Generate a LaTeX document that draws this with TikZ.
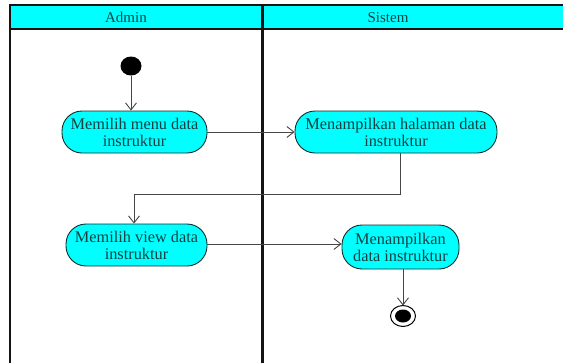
\documentclass[tikz,border=0pt]{standalone}
\usepackage{fontspec}
\setmainfont{Liberation Serif}
\usetikzlibrary{arrows.meta}
\definecolor{lanefill}{RGB}{0,255,255}
\definecolor{inktext}{RGB}{20,65,65}
\definecolor{flowline}{RGB}{70,70,70}
\definecolor{frameline}{RGB}{20,20,20}
\begin{document}
\begin{tikzpicture}[x=1pt,y=-1pt,
  action/.style={draw=inktext!70!black, line width=0.9pt, fill=lanefill,
    rounded corners=20pt, text=inktext, align=center, inner sep=0pt,
    font=\fontsize{16.3}{17}\selectfont},
  flow/.style={draw=flowline, line width=0.9pt,
    -{Straight Barb[length=7pt,width=11pt,line width=0.9pt]}},
  lanetitle/.style={text=inktext, font=\fontsize{15}{16}\selectfont}]
  \useasboundingbox (0,0) rectangle (563,362);
  % swimlane frame
  \fill[lanefill] (9.5,5) rectangle (570,29);
  \draw[frameline, line width=2pt] (9.5,370) -- (9.5,5) -- (570,5);
  \draw[frameline, line width=2pt] (9.5,29) -- (570,29);
  \draw[frameline, line width=3pt] (262,5) -- (262,370);
  \node[lanetitle] (laneA) at (126,17.5) {Admin};
  \node[lanetitle] (laneS) at (388,17.5) {Sistem};
  % activities
  \fill[black] (131,66) ellipse [x radius=10.5, y radius=9.5];
  \coordinate (start) at (131,76);
  \node[action, minimum width=145pt, minimum height=42pt] (n1) at (134.5,132)
    {Memilih menu data\\instruktur};
  \node[action, minimum width=202pt, minimum height=42pt] (n2) at (396,132)
    {Menampilkan halaman data\\instruktur};
  \node[action, minimum width=141pt, minimum height=42pt] (n3) at (136.5,245)
    {Memilih view data\\instruktur};
  \node[action, minimum width=117pt, minimum height=44pt] (n4) at (400.5,247)
    {Menampilkan\\data instruktur};
  % final node
  \draw[black, line width=1pt, fill=white] (403,316) ellipse [x radius=12.5, y radius=10.5];
  \fill[black] (403,316) ellipse [x radius=8, y radius=6.5];
  \coordinate (final) at (403,305.5);
  % control flow
  \draw[flow] (start) -- (start |- n1.north);
  \draw[flow] (n1.east) -- (n2.west);
  \draw[flow] ([xshift=4pt]n2.south) -- ++(0,41) -| ([xshift=-2.5pt]n3.north);
  \draw[flow] ([yshift=1pt]n3.east) -- ([yshift=1pt]n3.east -| n4.west);
  \draw[flow] ([xshift=2.5pt]n4.south) -- (final);
\end{tikzpicture}
\end{document}
